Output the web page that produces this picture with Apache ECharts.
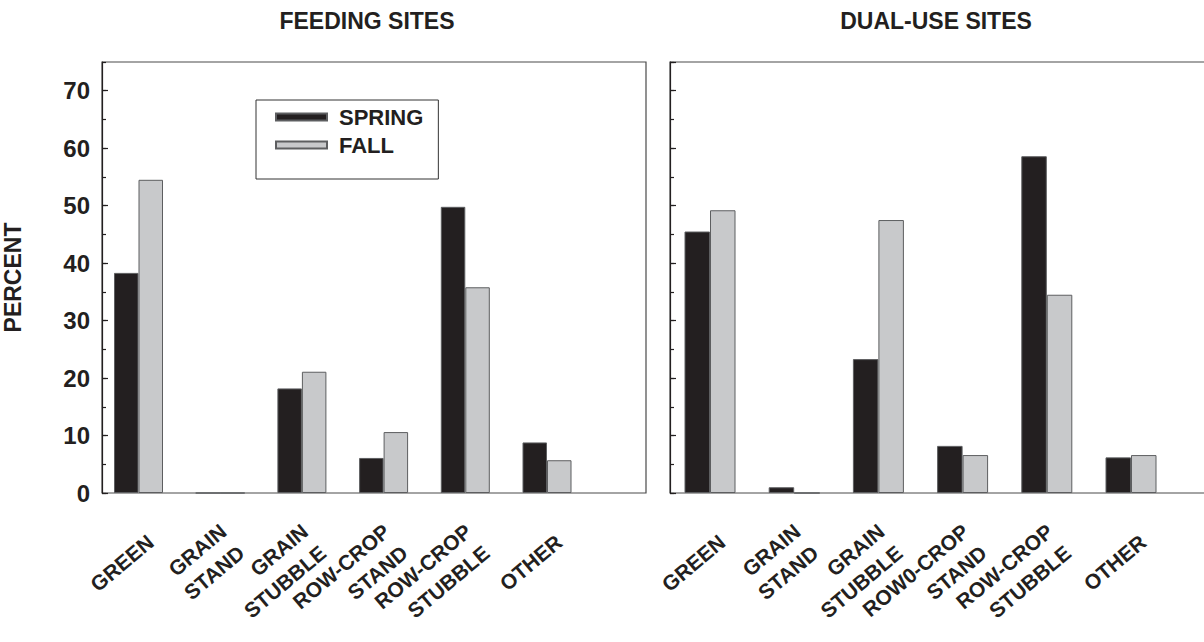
<!DOCTYPE html>
<html><head><meta charset="utf-8">
<script src="https://cdn.jsdelivr.net/npm/echarts@6/dist/echarts.min.js"></script>
<style>html,body{margin:0;padding:0;background:#fff}#c{width:1204px;height:642px}</style>
</head><body><div id="c"></div>
<script>
const categoriesFeeding = ['GREEN','GRAIN\nSTAND','GRAIN\nSTUBBLE','ROW-CROP\nSTAND','ROW-CROP\nSTUBBLE','OTHER'];
const categoriesDual = ['GREEN','GRAIN\nSTAND','GRAIN\nSTUBBLE','ROW0-CROP\nSTAND','ROW-CROP\nSTUBBLE','OTHER'];
const feedingSpring = [38.3, 0, 18.2, 6.1, 49.8, 8.8];
const feedingFall   = [54.5, 0, 21.1, 10.6, 35.8, 5.7];
const dualSpring    = [45.5, 1.0, 23.3, 8.2, 58.6, 6.2];
const dualFall      = [49.2, 0, 47.5, 6.6, 34.5, 6.6];
const seriesNames = ['SPRING','FALL'];
const panelTitles = ['FEEDING SITES','DUAL-USE SITES'];
const yAxisTitle = 'PERCENT';
const yMin = 0, yMax = 75, yMajor = 10, yMinor = 5;

const FONT = '"Liberation Sans", Arial, sans-serif';
const INK = '#231f20';
const DARK = '#231f20', LIGHT = '#c8c9cb', EDGE = '#5d5e60';
const TOP = 62, H = 431;
const LABEL_SHIFT = 12;

const chart = echarts.init(document.getElementById('c'), null, {renderer:'svg'});

function frameY(gi, labels, name){
  return [
    {gridIndex:gi, type:'value', min:yMin, max:yMax, interval:yMajor,
     name: name || '', nameLocation:'middle', nameGap:78, nameRotate:90,
     nameTextStyle:{fontFamily:FONT, fontSize:23, fontWeight:'bold', color:INK},
     axisLine:{show:true, lineStyle:{color:INK, width:1.2}},
     axisTick:{show:true, inside:true, length:6, lineStyle:{color:INK, width:1.2}},
     axisLabel:{show:labels, showMaxLabel:false, margin:12, fontFamily:FONT, fontSize:24, fontWeight:'bold', color:INK},
     splitLine:{show:false}},
    {gridIndex:gi, type:'value', min:yMin, max:yMax, interval:yMinor, position:'left', offset:0,
     axisLine:{show:false},
     axisTick:{show:true, inside:true, length:4, lineStyle:{color:INK, width:1.2}},
     axisLabel:{show:false}, splitLine:{show:false}},
  ];
}
function hiddenY(gi){
  return {gridIndex:gi, type:'value', min:yMin, max:yMax, show:false, splitLine:{show:false}};
}
function catX(gi, cats, withLabels){
  return {gridIndex:gi, type:'category', data:cats,
    axisLine:{show:false}, axisTick:{show:false}, splitLine:{show:false},
    axisLabel:{show:withLabels, interval:0, rotate:40, margin:46,
      fontFamily:FONT, fontSize:21, fontWeight:'bold', color:INK, lineHeight:28}};
}
function bar(name, xi, yi, data, color, w){
  return {type:'bar', name, xAxisIndex:xi, yAxisIndex:yi, data, barWidth:w, barGap:'0%',
    itemStyle:{color, borderColor:EDGE, borderWidth:1}, silent:true, animation:false};
}
const G = {outerBoundsMode:'none', containLabel:false};
const option = {
  animation:false,
  grid:[
    Object.assign({left:102, top:TOP, width:544, height:H, show:true, borderColor:'#4a4a4a', borderWidth:1.2, backgroundColor:'transparent'}, G),
    Object.assign({left:97.65, top:TOP, width:490.2, height:H}, G),
    Object.assign({left:670, top:TOP, width:544, height:H, show:true, borderColor:'#4a4a4a', borderWidth:1.2, backgroundColor:'transparent'}, G),
    Object.assign({left:667.9, top:TOP, width:505.2, height:H}, G),
    Object.assign({left:97.65 + LABEL_SHIFT, top:TOP, width:490.2, height:H}, G),
    Object.assign({left:667.9 + LABEL_SHIFT, top:TOP, width:505.2, height:H}, G),
  ],
  xAxis:[
    {gridIndex:0, type:'value', min:0, max:1, show:false},
    catX(1, categoriesFeeding, false),
    {gridIndex:2, type:'value', min:0, max:1, show:false},
    catX(3, categoriesDual, false),
    catX(4, categoriesFeeding, true),
    catX(5, categoriesDual, true),
  ],
  yAxis:[
    ...frameY(0, true, yAxisTitle),
    hiddenY(1),
    ...frameY(2, false, ''),
    hiddenY(3),
    hiddenY(4),
    hiddenY(5),
  ],
  legend:{
    data:seriesNames, orient:'vertical', left:256, top:100, icon:'rect',
    itemWidth:51, itemHeight:7, itemGap:6,
    padding:[6,15,23,19], borderColor:'#333', borderWidth:1, backgroundColor:'#fff',
    textStyle:{fontFamily:FONT, fontSize:22, fontWeight:'bold', color:INK, padding:[0,0,0,7], lineHeight:21},
    selectedMode:false
  },
  series:[
    bar(seriesNames[0], 1, 2, feedingSpring, DARK, 24.5),
    bar(seriesNames[1], 1, 2, feedingFall, LIGHT, 24.5),
    bar(seriesNames[0], 3, 5, dualSpring, DARK, 25.5),
    bar(seriesNames[1], 3, 5, dualFall, LIGHT, 25.5),
  ],
  graphic:[
    {type:'text', x:367, y:21, silent:true, style:{text:panelTitles[0], textAlign:'center', textVerticalAlign:'middle', fontFamily:FONT, fontSize:23, fontWeight:'bold', fill:INK}},
    {type:'text', x:936, y:21, silent:true, style:{text:panelTitles[1], textAlign:'center', textVerticalAlign:'middle', fontFamily:FONT, fontSize:23, fontWeight:'bold', fill:INK}},
  ]
};
chart.setOption(option);
</script>
</body></html>
